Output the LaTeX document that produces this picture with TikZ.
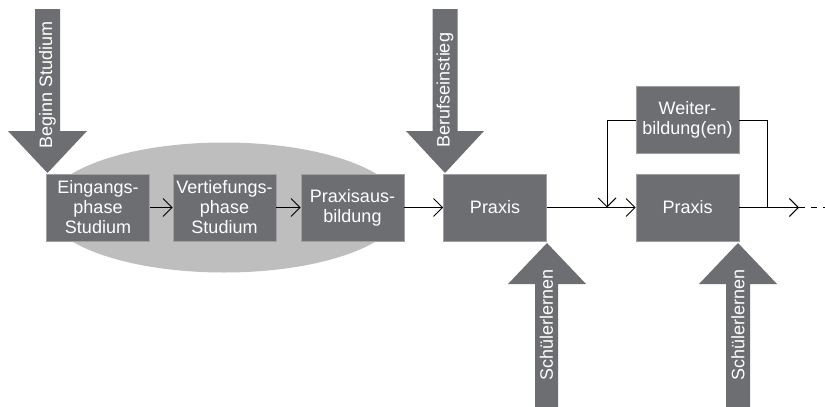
\documentclass[tikz,border=0pt]{standalone}
\usepackage{fontspec}
\setmainfont{Liberation Sans}
\usetikzlibrary{arrows.meta,shapes.geometric}
\definecolor{boxgray}{HTML}{6D6E71}
\definecolor{ellgray}{HTML}{BEBEBE}
\definecolor{edgegray}{HTML}{A0A0A2}
\begin{document}
\begin{tikzpicture}[x=1pt,y=-1pt,
  box/.style={fill=boxgray, draw=edgegray, line width=0.6pt, text=white,
    minimum width=103pt, minimum height=67pt, inner sep=0pt, align=center,
    font=\fontsize{18}{20}\selectfont},
  conn/.style={line width=0.9pt, -{Straight Barb[length=9pt,width=18pt,line width=0.9pt]}},
  plain/.style={line width=0.9pt},
  bigarrow/.style={fill=boxgray, draw=none},
  vlabel/.style={text=white, rotate=90, font=\fontsize{18}{20}\selectfont, inner sep=0pt}]
\useasboundingbox (0,0) rectangle (825,407);

% background ellipse
\node[ellipse, fill=ellgray, minimum width=356pt, minimum height=130pt, inner sep=0pt] (phase) at (224,207.5) {};

% boxes
\node[box] (ein) at (98,207.5) {Eingangs-\\phase\\Studium};
\node[box] (ver) at (224.5,207.5) {Vertiefungs-\\phase\\Studium};
\node[box] (pa) at (352.5,207.5) {Praxisaus-\\bildung};
\node[box] (p1) at (495,207.5) {Praxis};
\node[box] (p2) at (687.5,207.5) {Praxis};
\node[box] (wb) at (687.5,120) {Weiter-\\bildung(en)};

% big arrows
\fill[bigarrow] (35,9) -- (60,9) -- (60,131) -- (87,131) -- (47.5,173) -- (8,131) -- (35,131) -- cycle;
\node[vlabel] (beginn) at (47.5,85) {Beginn Studium};
\fill[bigarrow] (432.5,9) -- (457.5,9) -- (457.5,131) -- (484,131) -- (445,173) -- (406,131) -- (432.5,131) -- cycle;
\node[vlabel] (beruf) at (445,90) {Berufseinstieg};
\fill[bigarrow] (535,407) -- (558,407) -- (558,284) -- (586,284) -- (547,243) -- (508,284) -- (535,284) -- cycle;
\node[vlabel] (s1) at (546.5,325) {Schülerlernen};
\fill[bigarrow] (726,407) -- (750,407) -- (750,284) -- (777,284) -- (738,243) -- (699,284) -- (726,284) -- cycle;
\node[vlabel] (s2) at (738,325) {Schülerlernen};

% connectors
\draw[conn] (ein) -- (ver);
\draw[conn] (ver) -- (pa);
\draw[conn] (pa) -- (p1);
\draw[conn] (p1) -- (p2);
\coordinate (lj) at (607,207.5);
\coordinate (rj) at (767,207.5);
\coordinate (endp) at (799,207.5);
\coordinate (fade) at (825,207.5);
\draw[conn] (wb.west) -| (lj);
\draw[plain] (wb.east) -| (rj);
\draw[conn] (p2) -- (endp);
\draw[plain, dash pattern=on 6pt off 6pt] (endp) -- (fade);
\end{tikzpicture}
\end{document}
